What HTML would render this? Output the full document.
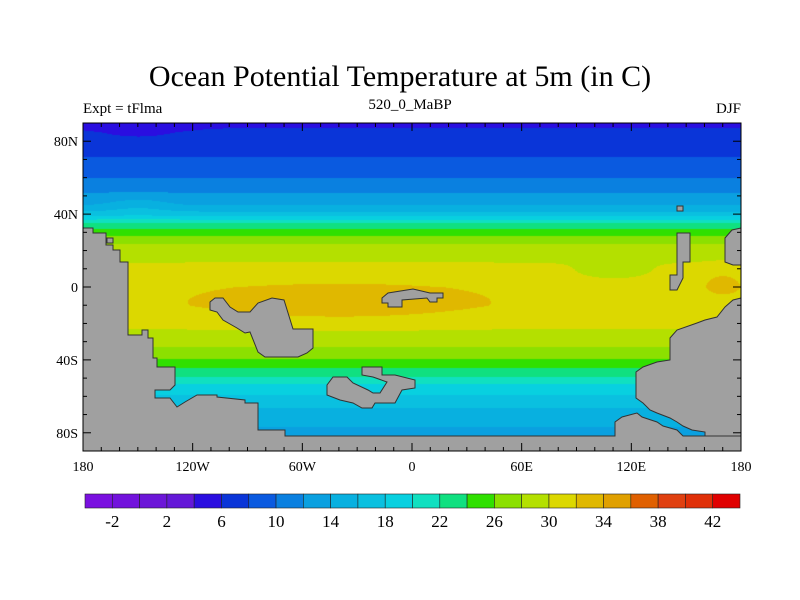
<!DOCTYPE html>
<html><head><meta charset="utf-8"><style>
body{margin:0;background:#fff;width:800px;height:600px;overflow:hidden;position:relative;font-family:"Liberation Serif",serif}
.t{position:absolute;white-space:nowrap;color:#000}
</style></head><body>
<div class="t" style="left:0;width:800px;text-align:center;top:60px;font-size:30px">Ocean Potential Temperature at 5m (in C)</div>
<div class="t" style="left:83px;top:101px;font-size:15px">Expt = tFlma</div>
<div class="t" style="left:360px;width:100px;text-align:center;top:97px;font-size:15px">520_0_MaBP</div>
<div class="t" style="right:59px;top:101px;font-size:15px">DJF</div>
<canvas id="cv" width="658" height="328" style="position:absolute;left:83px;top:123px"></canvas>
<svg id="sv" width="800" height="600" style="position:absolute;left:0;top:0"></svg>
<script>
const zonalLats=[90,85,75,65,55,50,45,40,35,30,25,20,10,0,-10,-20,-30,-37,-43,-48,-54,-62,-70,-80,-90];
const zonalTemps=[5.5,6.5,7.5,9,11,12.5,14,17,22.5,25,27.5,29.3,30.4,31.3,31.3,30.4,28.8,26.8,24.5,22.5,19.5,17,15,13.5,13];
const levelStart=-4, levelStep=2;
const levelColors=["#7a10e0","#7212dc","#6c16d8","#6418d8","#2a0ee0","#0a35d8","#0a5ae0","#0a80e0","#0aa0e0","#08b0e0","#0ac0e0","#08d0e0","#10e0c0","#10e080","#30e000","#8ce000","#b4e000","#dcd800","#e0b800","#e0a000","#e06000","#e04010","#e03008","#e00000"];
const cbLabels=["-2","2","6","10","14","18","22","26","30","34","38","42"];
const xTicks=[-180,-120,-60,0,60,120,180];
const xTickLabels=["180","120W","60W","0","60E","120E","180"];
const yTicks=[80,40,0,-40,-80];
const yTickLabels=["80N","40N","0","40S","80S"];
const X0=83,X1=741,Y0=123,Y1=451;
const lonX=l=>X0+(l+180)/360*(X1-X0);
const latY=l=>Y0+(90-l)/180*(Y1-Y0);
function zonal(lat){for(let i=0;i<zonalLats.length-1;i++){if(lat<=zonalLats[i]&&lat>=zonalLats[i+1]){const f=(zonalLats[i]-lat)/(zonalLats[i]-zonalLats[i+1]);return zonalTemps[i]+f*(zonalTemps[i+1]-zonalTemps[i]);}}return zonalTemps[zonalTemps.length-1];}
const cv=document.getElementById('cv'),ctx=cv.getContext('2d');
const hex=h=>[parseInt(h.substr(1,2),16),parseInt(h.substr(3,2),16),parseInt(h.substr(5,2),16)];
const rgb=levelColors.map(hex);
const img=ctx.createImageData(658,328);
for(let py=0;py<328;py++){const lat=90-py/328*180;const z=zonal(lat);
for(let px=0;px<658;px++){const lon=-180+px/658*360;
let v=z+2.2*Math.exp(-((lon+40)**2/6000+(lat+8)**2/110))
 +1.5*Math.exp(-((lon-170)**2/150+(lat-3)**2/60))
 -1.2*Math.exp(-((lon-110)**2/500+(lat-8)**2/25))
 +1.2*Math.exp(-((lon+150)**2/300+(lat-45)**2/40))
 -0.8*Math.exp(-((lon+150)**2/800+(lat-85)**2/40));
let k=Math.floor((v-levelStart)/levelStep);k=Math.max(0,Math.min(23,k));const c=rgb[k];const i=(py*658+px)*4;img.data[i]=c[0];img.data[i+1]=c[1];img.data[i+2]=c[2];img.data[i+3]=255;}}
ctx.putImageData(img,0,0);
const sv=document.getElementById('sv');const NS="http://www.w3.org/2000/svg";
function add(tag,attrs,name,parent){const e=document.createElementNS(NS,tag);for(const k in attrs)e.setAttribute(k,attrs[k]);


(parent||sv).appendChild(e);return e;}
const lands=[
["land-west-continent","83,228 93,228 93,233 106,233 106,245 113,245 113,250 120,250 120,262 128,262 128,335 142,335 142,330 148,330 148,338 153,338 153,358 157,358 157,367 175,367 175,385 170,390 155,390 155,398 170,398 177,407 185,402 197,395 217,395 217,397 245,400 245,403 258,403 258,430 285,430 285,436 615,436 615,422 622,417 637,413 642,417 657,422 663,426 677,430 683,436 741,436 741,451 83,451"],
["land-east-continent","741,298 733,300 725,307 717,317 705,320 697,323 677,330 670,338 670,360 657,362 643,367 636,372 636,398 643,403 650,410 657,413 670,418 677,422 683,426 692,430 705,432 705,436 741,436"],
["land-ne-edge","741,228 732,230 725,238 725,262 733,265 741,265"],
["land-africa","210,302 215,298 223,298 230,307 238,312 250,312 258,303 272,298 284,300 293,329 313,329 313,348 307,353 298,357 265,357 258,352 250,332 245,333 237,328 230,324 223,320 217,312 210,310"],
["land-equatorial-island","382,298 388,293 413,289 430,293 443,293 443,298 437,298 437,302 430,302 427,298 402,300 402,307 388,307 388,303 382,303"],
["land-southern-island","362,367 382,367 382,375 395,375 415,380 415,388 402,390 395,403 375,403 372,408 362,408 353,403 340,400 327,395 327,385 333,377 347,377 353,383 368,390 373,393 380,393 387,382 373,377 362,375"],
["land-japan-arc","677,233 690,233 690,262 683,262 683,278 677,290 670,290 670,275 677,275"],
["land-small-north","677,206 683,206 683,211 677,211"],
["land-small-west","107,238 113,238 113,243 107,243"]];
lands.forEach(l=>add('polygon',{points:l[1],fill:'#a0a0a0',stroke:'#333','stroke-width':1},l[0]));
add('rect',{x:X0,y:Y0,width:X1-X0,height:Y1-Y0,fill:'none',stroke:'#000','stroke-width':1},'plot-frame');
for(let l=-180;l<=180;l+=10){const x=lonX(l),len=(l%60===0)?8:4;
add('line',{x1:x,x2:x,y1:Y1,y2:Y1-len,stroke:'#000'},'x-tick');
add('line',{x1:x,x2:x,y1:Y0,y2:Y0+len,stroke:'#000'},'x-tick-top');}
for(let l=-90;l<=90;l+=10){const y=latY(l),len=(l%40===0)?8:4;
add('line',{x1:X0,x2:X0+len,y1:y,y2:y,stroke:'#000'},'y-tick');
add('line',{x1:X1,x2:X1-len,y1:y,y2:y,stroke:'#000'},'y-tick-right');}
xTicks.forEach((l,i)=>{const t=add('text',{x:lonX(l),y:471,'text-anchor':'middle','font-size':14,'font-family':'Liberation Serif, serif'},'x-tick-label');t.textContent=xTickLabels[i];});
yTicks.forEach((l,i)=>{const t=add('text',{x:X0-5,y:latY(l)+5,'text-anchor':'end','font-size':14,'font-family':'Liberation Serif, serif'},'y-tick-label');t.textContent=yTickLabels[i];});
const CB0=85,CB1=740,CBY=494,CBH=14,bw=(CB1-CB0)/levelColors.length;
levelColors.forEach((c,i)=>add('rect',{x:CB0+i*bw,y:CBY,width:bw,height:CBH,fill:c,stroke:'#222','stroke-width':0.6},'colorbar-box'));
cbLabels.forEach((s,i)=>{const t=add('text',{x:CB0+(1+2*i)*bw,y:527,'text-anchor':'middle','font-size':17,'font-family':'Liberation Serif, serif'},'colorbar-label');t.textContent=s;});
</script>
</body></html>
